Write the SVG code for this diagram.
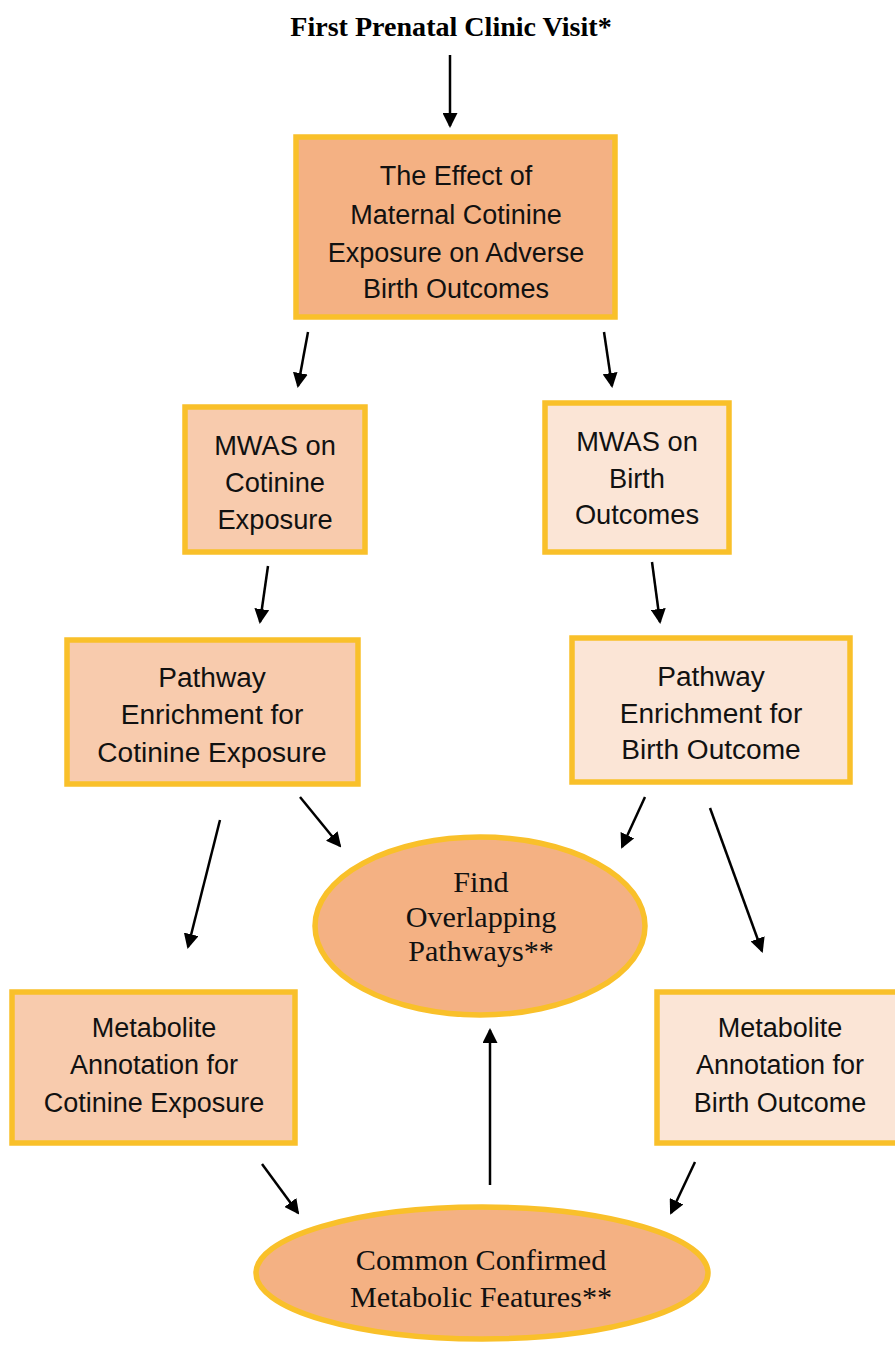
<svg xmlns="http://www.w3.org/2000/svg" width="895" height="1349" viewBox="0 0 895 1349">
<defs>
<marker id="ah" markerWidth="15" markerHeight="15" refX="13" refY="7.5" orient="auto" markerUnits="userSpaceOnUse">
<path d="M0,0 L15,7.5 L0,15 z" fill="#000"/>
</marker>
<style>
.box{stroke:#F9C02A;stroke-width:5.5}
.dark{fill:#F4B183}
.mid{fill:#F8CBAD}
.light{fill:#FBE5D6}
.s{font-family:"Liberation Sans",Arial,sans-serif;font-size:27px;fill:#111;text-anchor:middle}
.r{font-family:"Liberation Serif","Times New Roman",serif;font-size:29px;fill:#111;text-anchor:middle}
.t{font-family:"Liberation Serif","Times New Roman",serif;font-size:27px;font-weight:bold;fill:#000;text-anchor:middle}
.c{stroke:#000;stroke-width:2.5;fill:none;marker-end:url(#ah)}
</style>
</defs>
<rect width="895" height="1349" fill="#fff"/>

<g id="title">
<g transform="translate(451,0) scale(1.04,1)"><text class="t" x="0" y="36">First Prenatal Clinic Visit*</text></g>
</g>

<g id="connectors">
<line class="c" x1="450" y1="55" x2="450" y2="126"/>
<line class="c" x1="308" y1="332" x2="298" y2="386"/>
<line class="c" x1="604" y1="332" x2="612" y2="386"/>
<line class="c" x1="268" y1="566" x2="260" y2="622"/>
<line class="c" x1="652" y1="562" x2="660" y2="622"/>
<line class="c" x1="300" y1="797" x2="340" y2="846"/>
<line class="c" x1="220" y1="820" x2="188" y2="947"/>
<line class="c" x1="645" y1="797" x2="622" y2="847"/>
<line class="c" x1="710" y1="808" x2="762" y2="951"/>
<line class="c" x1="490" y1="1185" x2="490" y2="1030"/>
<line class="c" x1="262" y1="1164" x2="298" y2="1213"/>
<line class="c" x1="695" y1="1162" x2="671" y2="1213"/>
</g>

<g id="n-effect">
<rect class="box dark" x="296" y="137" width="319" height="180"/>
<g transform="translate(456,0) scale(1.0,1)">
<text class="s" x="0" y="185">The Effect of</text>
<text class="s" x="0" y="224">Maternal Cotinine</text>
<text class="s" x="0" y="262">Exposure on Adverse</text>
<text class="s" x="0" y="298">Birth Outcomes</text>
</g>
</g>

<g id="n-mwas-cotinine">
<rect class="box mid" x="185" y="407" width="180" height="145"/>
<g transform="translate(275,0) scale(1.01,1)">
<text class="s" x="0" y="455">MWAS on</text>
<text class="s" x="0" y="492">Cotinine</text>
<text class="s" x="0" y="529">Exposure</text>
</g>
</g>

<g id="n-mwas-birth">
<rect class="box light" x="545" y="403" width="184" height="149"/>
<g transform="translate(637,0) scale(1.01,1)">
<text class="s" x="0" y="451">MWAS on</text>
<text class="s" x="0" y="488">Birth</text>
<text class="s" x="0" y="524">Outcomes</text>
</g>
</g>

<g id="n-pathway-cotinine">
<rect class="box mid" x="67" y="640" width="291" height="144"/>
<g transform="translate(212,0) scale(1.04,1)">
<text class="s" x="0" y="687">Pathway</text>
<text class="s" x="0" y="724">Enrichment for</text>
<text class="s" x="0" y="762">Cotinine Exposure</text>
</g>
</g>

<g id="n-pathway-birth">
<rect class="box light" x="572" y="638" width="278" height="144"/>
<g transform="translate(711,0) scale(1.04,1)">
<text class="s" x="0" y="686">Pathway</text>
<text class="s" x="0" y="723">Enrichment for</text>
<text class="s" x="0" y="759">Birth Outcome</text>
</g>
</g>

<g id="n-overlap">
<ellipse class="box dark" cx="480" cy="926" rx="165" ry="89"/>
<g transform="translate(481,0) scale(1.04,1)">
<text class="r" x="0" y="892">Find</text>
<text class="r" x="0" y="927">Overlapping</text>
<text class="r" x="0" y="961">Pathways**</text>
</g>
</g>

<g id="n-metab-cotinine">
<rect class="box mid" x="12" y="992" width="283" height="151"/>
<g transform="translate(154,0) scale(1.0,1)">
<text class="s" x="0" y="1037">Metabolite</text>
<text class="s" x="0" y="1074">Annotation for</text>
<text class="s" x="0" y="1112">Cotinine Exposure</text>
</g>
</g>

<g id="n-metab-birth">
<rect class="box light" x="657" y="992" width="260" height="151"/>
<g transform="translate(780,0) scale(1.0,1)">
<text class="s" x="0" y="1037">Metabolite</text>
<text class="s" x="0" y="1074">Annotation for</text>
<text class="s" x="0" y="1112">Birth Outcome</text>
</g>
</g>

<g id="n-common">
<ellipse class="box dark" cx="482" cy="1273" rx="226" ry="66"/>
<g transform="translate(481,0) scale(1.04,1)">
<text class="r" x="0" y="1270">Common Confirmed</text>
<text class="r" x="0" y="1307">Metabolic Features**</text>
</g>
</g>
</svg>
